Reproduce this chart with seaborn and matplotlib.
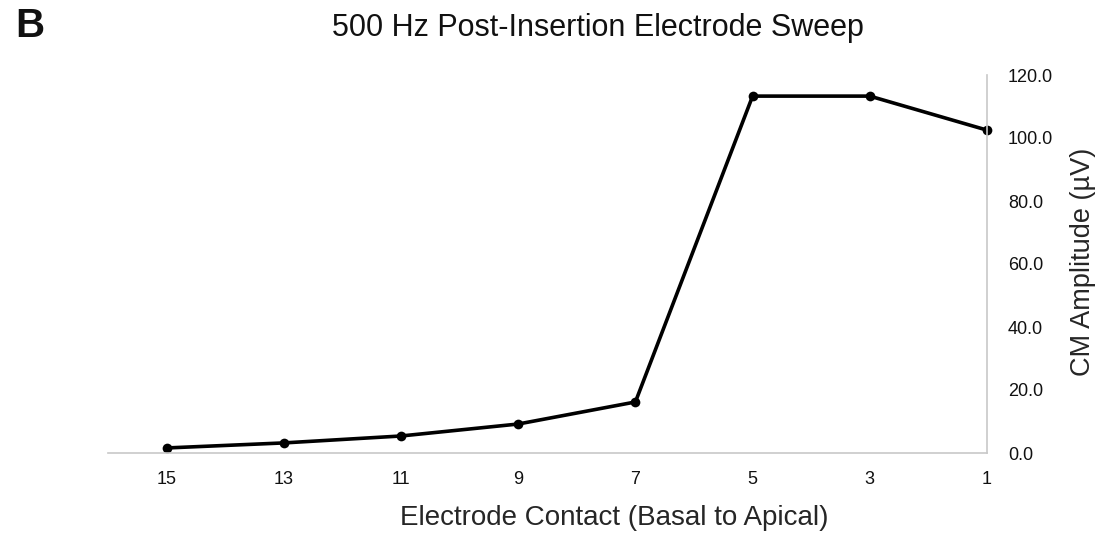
import pandas as pd
import matplotlib
matplotlib.use('Agg')
import matplotlib.pyplot as plt
import seaborn as sns

# data
contacts = ['15', '13', '11', '9', '7', '5', '3', '1']
amplitude = [1.6, 3.2, 5.4, 9.2, 16.2, 113.3, 113.3, 102.5]
y_ticks = [0, 20, 40, 60, 80, 100, 120]

df = pd.DataFrame({'contact': contacts, 'amp': amplitude})

sns.set_style('white')
plt.rcParams['font.family'] = ['Liberation Sans', 'DejaVu Sans']
plt.rcParams['text.color'] = '#111111'

fig = plt.figure(figsize=(10.99, 5.33), dpi=100)
ax = fig.add_axes([108 / 1099, 1 - 453 / 533, (987 - 108) / 1099, (453 - 75) / 533])

sns.lineplot(data=df, x='contact', y='amp', ax=ax, color='black',
             linewidth=2.6, marker='o', markersize=7, markeredgewidth=0,
             clip_on=False)

ax.set_xlim(-0.5, len(contacts) - 1)
ax.set_ylim(0, 120)
ax.set_yticks(y_ticks)
ax.set_yticklabels([f'{v:.1f}' for v in y_ticks])
ax.yaxis.tick_right()
ax.yaxis.set_label_position('right')
ax.tick_params(axis='both', length=0, labelsize=13, colors='#111111')
ax.tick_params(axis='x', pad=13)
ax.tick_params(axis='y', pad=15)

for side in ['top', 'left']:
    ax.spines[side].set_visible(False)
for side in ['right', 'bottom']:
    ax.spines[side].set_color('#c8c8c8')
    ax.spines[side].set_linewidth(1.2)

# axis labels, placed like the reference
ax.set_xlabel('Electrode Contact (Basal to Apical)', fontsize=20)
ax.xaxis.set_label_coords((614 - 108) / 879, (453 - 525) / 378)
ax.xaxis.label.set_va('baseline')
ax.set_ylabel('CM Amplitude (µV)', fontsize=19.5)
ax.yaxis.set_label_coords((1083 - 108) / 879, (453 - 262) / 378)
ax.yaxis.label.set_va('center')

fig.suptitle('500 Hz Post-Insertion Electrode Sweep', fontsize=22,
             x=598 / 1099, y=1 - 36 / 533, va='baseline')
fig.text(30 / 1099, 1 - 26 / 533, 'B', fontsize=29, fontweight='bold',
         ha='center', va='center')

fig.savefig('out.png', dpi=100)
